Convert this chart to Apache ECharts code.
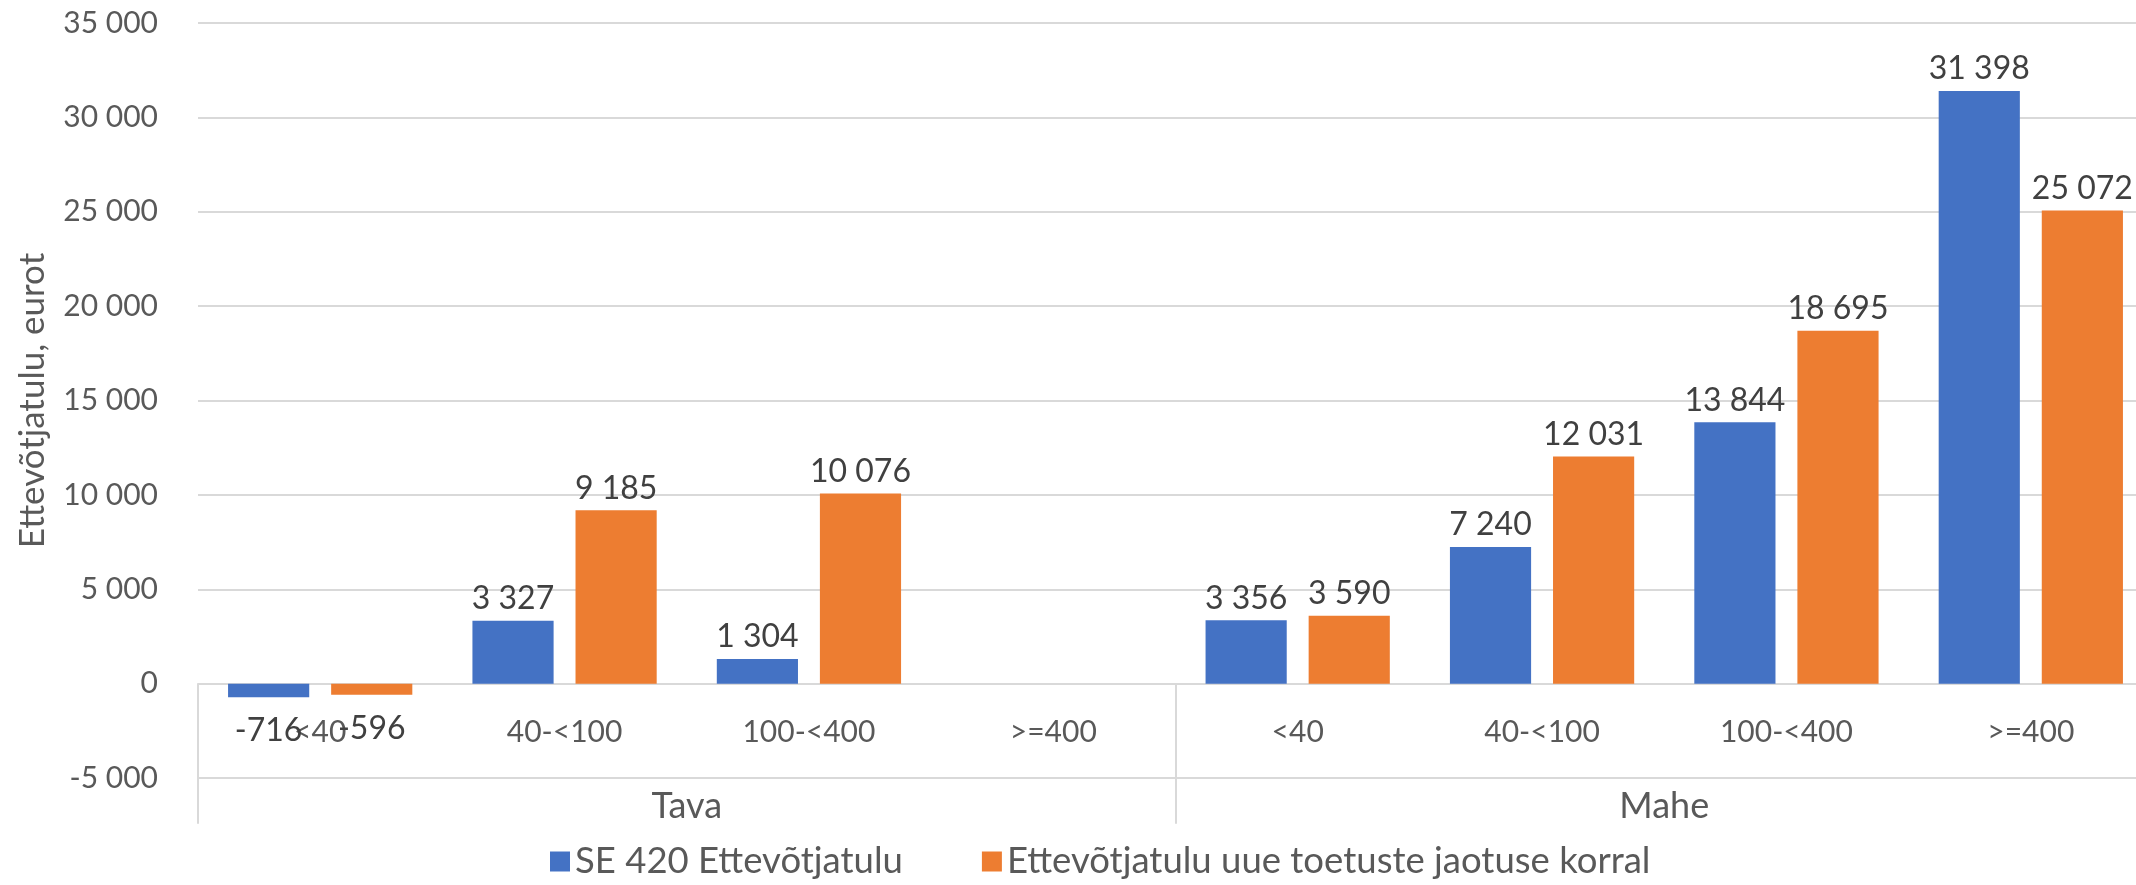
<!DOCTYPE html>
<html>
<head>
<meta charset="utf-8">
<title>Ettevõtjatulu</title>
<script src="https://cdn.jsdelivr.net/npm/echarts@6/dist/echarts.min.js"></script>
<style>
  html, body { margin: 0; padding: 0; background: #fff; }
  #chart { width: 2136px; height: 885px; }
</style>
</head>
<body>
<div id="chart"></div>
<script>
// andmed
const categories = ["<40", "40-<100", "100-<400", ">=400", "<40", "40-<100", "100-<400", ">=400"];
const groups = ["Tava", "Mahe"];
const seriesNames = ["SE 420 Ettevõtjatulu", "Ettevõtjatulu uue toetuste jaotuse korral"];
const se420 = [-716, 3327, 1304, null, 3356, 7240, 13844, 31398];
const uusJaotus = [-596, 9185, 10076, null, 3590, 12031, 18695, 25072];
const yTicks = { min: -5000, max: 35000, interval: 5000 };

const fontFamily = "Lato, 'Open Sans', sans-serif";

// tuhandete eraldaja tühikuga
function fmt(v) {
  return String(v).replace(/\B(?=(\d{3})+(?!\d))/g, " ");
}

// negatiivsete väärtuste silt tulba alla
function toData(arr) {
  return arr.map(function (v) {
    if (v === null) return null;
    if (v < 0) return { value: v, label: { position: "bottom", distance: 18 } };
    return { value: v, label: { position: "top" } };
  });
}

const labelStyle = {
  show: true,
  fontFamily: fontFamily,
  fontSize: 32,
  color: "#404040",
  distance: 6,
  formatter: function (p) { return fmt(p.value); }
};

// grid: ülemine 23px, alumine 778px -> nullijoon 94.4px alumisest servast kõrgemal
const gridTop = 23, gridBottom = 107;
const plotH = 885 - gridTop - gridBottom;
const zeroOffset = plotH * (0 - yTicks.min) / (yTicks.max - yTicks.min);

const chart = echarts.init(document.getElementById("chart"));

chart.setOption({
  animation: false,
  color: ["#4472C4", "#ED7D31"],
  textStyle: { fontFamily: fontFamily },
  grid: { left: 198, right: -17, top: gridTop, bottom: gridBottom, containLabel: false, outerBoundsMode: "none" },
  legend: {
    bottom: 0,
    left: 545,
    icon: "rect",
    itemWidth: 20,
    itemHeight: 20,
    itemGap: 79,
    textStyle: { fontSize: 36.5, color: "#595959", fontFamily: fontFamily },
    data: seriesNames
  },
  xAxis: [
    {
      type: "category",
      data: categories,
      position: "bottom",
      offset: -zeroOffset,
      axisLine: { onZero: false, lineStyle: { color: "#d9d9d9", width: 2 } },
      axisTick: {
        show: true,
        length: 140,
        interval: function (i) { return i % 4 === 0; },
        lineStyle: { color: "#d9d9d9", width: 2 }
      },
      axisLabel: { interval: 0, margin: 34, fontSize: 30, color: "#595959" }
    },
    {
      type: "category",
      data: groups,
      position: "bottom",
      axisLine: { show: false },
      axisTick: { show: false },
      axisLabel: { interval: 0, margin: 10, fontSize: 36, color: "#595959" }
    }
  ],
  yAxis: {
    type: "value",
    min: yTicks.min,
    max: yTicks.max,
    interval: yTicks.interval,
    name: "Ettevõtjatulu, eurot",
    nameLocation: "middle",
    nameGap: 148,
    nameTextStyle: { fontSize: 35, color: "#595959" },
    axisLine: { show: false },
    axisTick: { show: false },
    axisLabel: {
      margin: 40,
      fontSize: 30,
      color: "#595959",
      formatter: function (v) { return fmt(v); }
    },
    splitLine: { lineStyle: { color: "#d9d9d9", width: 2 } }
  },
  series: [
    {
      name: seriesNames[0],
      type: "bar",
      data: toData(se420),
      barGap: "27%",
      barCategoryGap: "24.6%",
      label: labelStyle
    },
    {
      name: seriesNames[1],
      type: "bar",
      data: toData(uusJaotus),
      barGap: "27%",
      barCategoryGap: "24.6%",
      label: labelStyle
    }
  ]
});
</script>
</body>
</html>
